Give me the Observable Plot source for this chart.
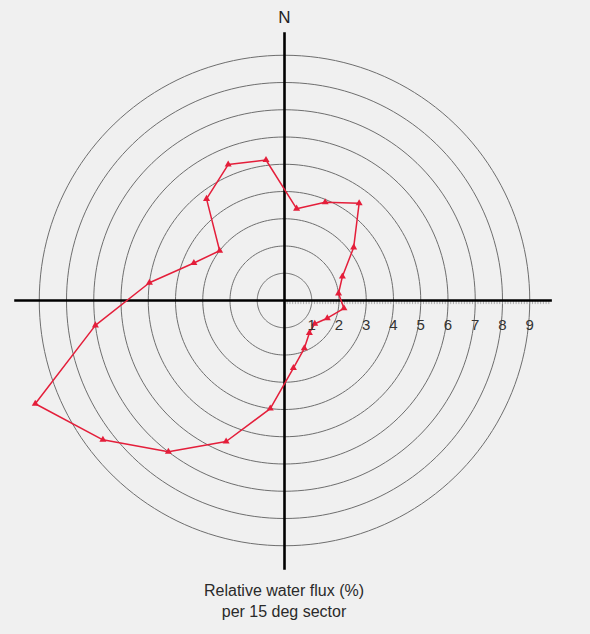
<!DOCTYPE html>
<html><head><meta charset="utf-8">
<script src="https://cdn.jsdelivr.net/npm/d3@7"></script>
<script src="https://cdn.jsdelivr.net/npm/@observablehq/plot@0.6"></script>
<style>
body{margin:0;background:#f0f0f0;font-family:"Liberation Sans",Arial,sans-serif;}
#cap{width:568px;text-align:center;font-size:16px;line-height:21px;color:#2a2a2a;}
</style></head><body>
<div id="chart"></div>
<div id="cap">Relative water flux (%)<br>per 15 deg sector</div>
<script>
// Sector centre directions (degrees clockwise from North)
const sectorAngles = [7.5,22.5,37.5,52.5,67.5,82.5,97.5,112.5,127.5,142.5,157.5,172.5,
  187.5,202.5,217.5,232.5,247.5,262.5,277.5,292.5,307.5,322.5,337.5,352.5];
// Relative water flux (%) per 15 deg sector
const flux = [3.4,3.9,4.5,3.2,2.3,2.0,2.2,1.7,1.4,1.5,1.9,2.5,
  4.0,5.6,7.0,8.4,9.9,7.0,5.0,3.6,3.0,4.7,5.4,5.2];
// Concentric rings and their labels
const rings = [1,2,3,4,5,6,7,8,9];
const tickLabels = ["1","2","3","4","5","6","7","8","9"];
const axisTitle = "N";

// layout
const W = 590, H = 580, cx = 284, cy = 300, u = 27.25;
const rad = a => a * Math.PI / 180;

const points = sectorAngles.map((a, i) => ({x: flux[i] * Math.sin(rad(a)), y: flux[i] * Math.cos(rad(a))}));
const ringPts = rings.flatMap(r => d3.range(0, 361, 2).map(a => ({r, x: r * Math.sin(rad(a)), y: r * Math.cos(rad(a))})));
const minorTicks = d3.range(1, 98).map(i => i / 10);

const red = "#e41e3a";
const chart = Plot.plot({
  width: W, height: H,
  margin: 0,
  style: {background: "transparent", fontFamily: "Liberation Sans, Arial, sans-serif"},
  x: {type: "linear", domain: [-cx / u, (W - cx) / u], range: [0, W], axis: null},
  y: {type: "linear", domain: [-(H - cy) / u, cy / u], range: [H, 0], axis: null},
  marks: [
    Plot.line(ringPts, {x: "x", y: "y", z: "r", stroke: "#6e6e6e", strokeWidth: 1}),
    Plot.ruleX(minorTicks, {x: d => d, y1: 0, y2: -0.15, stroke: "#999", strokeWidth: 0.8}),
    Plot.ruleY([0], {x1: -9.9, x2: 9.83, stroke: "#000", strokeWidth: 2.6}),
    Plot.ruleX([0], {y1: -9.9, y2: 9.83, stroke: "#000", strokeWidth: 2.6}),
    Plot.line(points, {x: "x", y: "y", stroke: red, strokeWidth: 1.5, curve: "linear-closed"}),
    Plot.dot(points, {x: "x", y: "y", r: 2.6, fill: red, stroke: "none", symbol: "triangle"}),
    Plot.text(rings, {x: d => d, y: 0, text: (d, i) => tickLabels[i], dy: 25, fontSize: 15, fill: "#333"}),
    Plot.text([axisTitle], {x: 0, y: 9.83, text: d => d, dy: -15, fontSize: 17, fill: "#222"})
  ]
});
document.getElementById("chart").append(chart);
</script>
</body></html>
